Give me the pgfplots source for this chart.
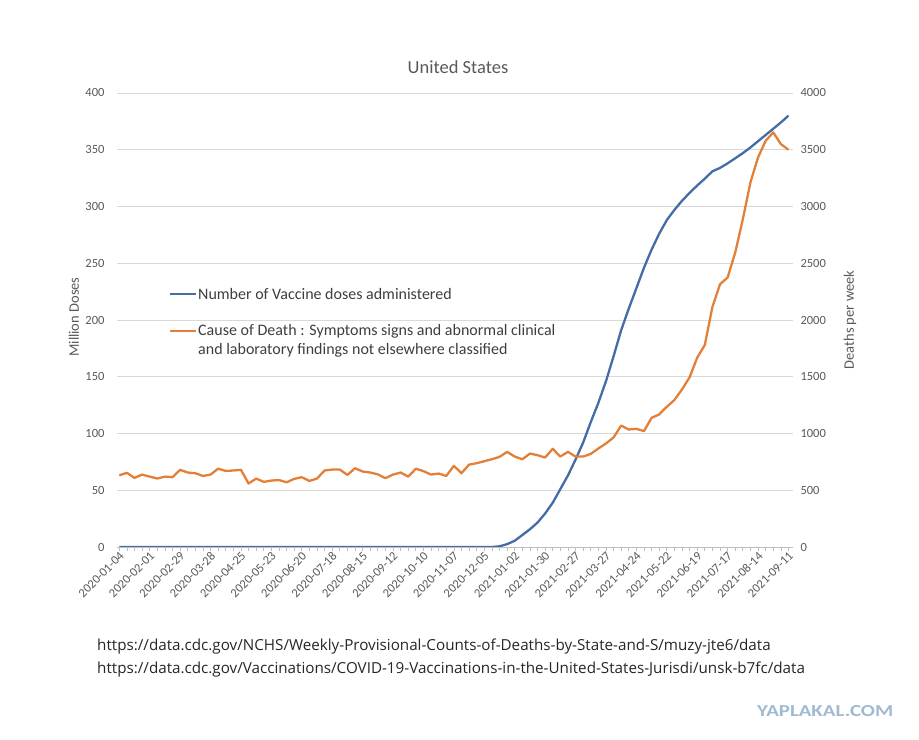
\documentclass[border=0pt]{standalone}
\usepackage{fontspec}
\setmainfont{Carlito}
\newfontfamily\urlfont{Open Sans}
\usepackage{pgfplots}
\pgfplotsset{compat=1.18}
\usepackage{pgfplotstable}
\definecolor{vblue}{RGB}{68,108,165}
\definecolor{dorange}{RGB}{226,128,56}
\definecolor{txtgrey}{RGB}{89,89,89}
\definecolor{gridgrey}{RGB}{217,217,217}
\definecolor{wmark}{RGB}{160,186,210}
\pgfplotstableread{
k dose death
0 0 632
1 0 653
2 0 609
3 0 638
4 0 620
5 0 603
6 0 620
7 0 615
8 0 680
9 0 656
10 0 650
11 0 626
12 0 638
13 0 690
14 0 670
15 0 674
16 0 680
17 0 559
18 0 603
19 0 574
20 0 585
21 0 590
22 0 570
23 0 600
24 0 615
25 0 582
26 0 603
27 0 674
28 0 682
29 0 682
30 0 635
31 0 694
32 0 665
33 0 656
34 0 640
35 0 606
36 0 638
37 0 656
38 0 620
39 0 690
40 0 668
41 0 638
42 0 647
43 0 626
44 0 715
45 0 650
46 0 726
47 0 738
48 0 756
49 0 773
50 0.6 794
51 2.5 838
52 5.5 797
53 10.5 773
54 15.6 823
55 21.5 809
56 29.5 788
57 39 865
58 51 797
59 63 838
60 77 797
61 92 797
62 110 820
63 127 868
64 146 912
65 168 965
66 191 1070
67 210 1035
68 228 1041
69 246 1021
70 262 1138
71 276 1168
72 288 1235
73 297 1295
74 305 1388
75 312 1495
76 318.5 1668
77 324.5 1780
78 331 2115
79 334 2315
80 338 2374
81 342.5 2594
82 347 2888
83 352 3212
84 357.5 3432
85 363 3579
86 368.5 3653
87 374 3550
88 380 3500
}\data
\begin{document}
\begin{tikzpicture}[x=1bp,y=1bp]
\useasboundingbox (0,0) rectangle (919,740);
\pgfplotsset{
  common/.style={
    at={(117bp,193bp)}, anchor=south west,
    scale only axis, width=676bp, height=454bp,
    xmin=-0.3, xmax=88.6,
    /pgf/number format/assume math mode=true,
    /pgf/number format/1000 sep={},
    y axis line style={draw=none},
    ytick style={draw=none},
    yticklabel style={font=\fontsize{12.5bp}{14bp}\selectfont, text=txtgrey},
  }
}
\begin{axis}[common,
  ymin=0, ymax=400,
  axis x line*=bottom, axis y line*=left,
  x axis line style={draw=gridgrey!70!gray, line width=0.8bp, -},
  xtick={0,4,...,88},
  minor xtick={0,1,...,88},
  xtick style={draw=gridgrey!70!gray, line width=0.7bp},
  tick align=outside,
  major tick length=4bp, minor tick length=4bp,
  xticklabels={2020-01-04,2020-02-01,2020-02-29,2020-03-28,2020-04-25,2020-05-23,2020-06-20,2020-07-18,2020-08-15,2020-09-12,2020-10-10,2020-11-07,2020-12-05,2021-01-02,2021-01-30,2021-02-27,2021-03-27,2021-04-24,2021-05-22,2021-06-19,2021-07-17,2021-08-14,2021-09-11},
  xticklabel style={rotate=45, anchor=east, font=\fontsize{12.5bp}{14bp}\selectfont, text=txtgrey, xshift=3bp, yshift=-4bp},
  ytick={0,50,...,400},
  ymajorgrids, grid style={gridgrey, line width=0.8bp},
  yticklabel style={xshift=-5bp},
]
\addplot[vblue, line width=2.3bp, line join=round, no markers] table[x=k,y=dose]{\data};
\end{axis}
\begin{axis}[common,
  ymin=0, ymax=4000,
  axis y line*=right, axis x line=none,
  ytick={0,500,...,4000},
  yticklabel style={xshift=4bp},
]
\addplot[dorange, line width=2.3bp, line join=round, no markers] table[x=k,y=death]{\data};
\end{axis}
% title and axis titles
\node[text=txtgrey, font=\fontsize{18.5bp}{21bp}\selectfont] at (458,673) {United States};
\node[text=txtgrey, rotate=90, font=\fontsize{14.5bp}{17bp}\selectfont] at (74,423) {Million Doses};
\node[text=txtgrey, rotate=90, font=\fontsize{14.5bp}{17bp}\selectfont] at (850,420) {Deaths per week};
% legend
\draw[vblue, line width=2.3bp] (170,446) -- (196,446);
\node[anchor=west, inner sep=0, text=txtgrey!70!black, font=\fontsize{16bp}{19bp}\selectfont] at (198,446) {Number of Vaccine doses administered};
\draw[dorange, line width=2.3bp] (170,409) -- (196,409);
\node[anchor=west, inner sep=0, text=txtgrey!70!black, font=\fontsize{16bp}{19bp}\selectfont] at (198,409) {Cause of Death : Symptoms signs and abnormal clinical};
\node[anchor=west, inner sep=0, text=txtgrey!70!black, font=\fontsize{16bp}{19bp}\selectfont] at (198,390) {and laboratory findings not elsewhere classified};
% sources
\node[anchor=west, inner sep=0, text=black!85, font=\urlfont\fontsize{15.2bp}{18bp}\selectfont] at (97,93) {https://data.cdc.gov/NCHS/Weekly-Provisional-Counts-of-Deaths-by-State-and-S/muzy-jte6/data};
\node[anchor=west, inner sep=0, text=black!85, font=\urlfont\fontsize{15.2bp}{18bp}\selectfont] at (97,70) {https://data.cdc.gov/Vaccinations/COVID-19-Vaccinations-in-the-United-States-Jurisdi/unsk-b7fc/data};
% watermark
\node[anchor=west, inner sep=0, text=wmark] at (757,29) {\resizebox{136bp}{11bp}{\bfseries YAPLAKAL.COM}};
\end{tikzpicture}
\end{document}
